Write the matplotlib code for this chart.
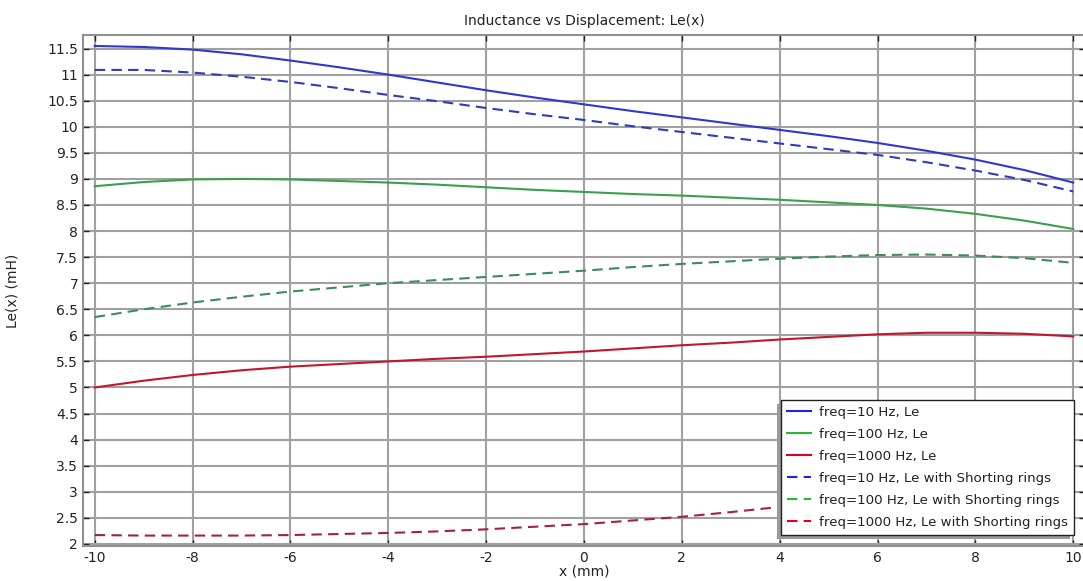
import numpy as np
import matplotlib.pyplot as plt
from matplotlib.patches import Shadow

x = [-10, -9, -8, -7, -6, -5, -4, -3, -2, -1, 0, 1, 2, 3, 4, 5, 6, 7, 8, 9, 10]

le_10 = [11.55, 11.53, 11.48, 11.39, 11.27, 11.14, 11.00, 10.85, 10.70, 10.56, 10.43,
         10.30, 10.18, 10.06, 9.94, 9.82, 9.69, 9.54, 9.37, 9.17, 8.93]
le_100 = [8.86, 8.94, 8.99, 9.00, 8.99, 8.96, 8.93, 8.89, 8.84, 8.79, 8.75,
          8.71, 8.68, 8.64, 8.60, 8.55, 8.50, 8.43, 8.33, 8.20, 8.04]
le_1000 = [5.00, 5.13, 5.24, 5.33, 5.40, 5.45, 5.50, 5.55, 5.59, 5.64, 5.69,
           5.75, 5.81, 5.86, 5.92, 5.97, 6.02, 6.05, 6.05, 6.03, 5.98]
sr_10 = [11.09, 11.09, 11.04, 10.96, 10.86, 10.74, 10.61, 10.49, 10.36, 10.24, 10.13,
         10.01, 9.90, 9.79, 9.68, 9.57, 9.46, 9.32, 9.16, 8.98, 8.76]
sr_100 = [6.35, 6.50, 6.63, 6.74, 6.84, 6.92, 7.00, 7.06, 7.12, 7.18, 7.24,
          7.31, 7.37, 7.42, 7.47, 7.51, 7.54, 7.55, 7.53, 7.48, 7.39]
sr_1000 = [2.17, 2.16, 2.16, 2.16, 2.17, 2.19, 2.21, 2.24, 2.28, 2.33, 2.38,
           2.45, 2.52, 2.61, 2.71, 2.82, 2.94, 3.06, 3.19, 3.32, 3.45]

labels = ["freq=10 Hz, Le", "freq=100 Hz, Le", "freq=1000 Hz, Le",
          "freq=10 Hz, Le with Shorting rings", "freq=100 Hz, Le with Shorting rings",
          "freq=1000 Hz, Le with Shorting rings"]

plt.rcParams['font.family'] = 'DejaVu Sans'
plt.rcParams['axes.unicode_minus'] = False
fig = plt.figure(figsize=(10.83, 5.81), dpi=100)
ax = fig.add_axes([83/1083, 35/581, 1002/1083, 511/581])

dash = (0, (5, 3))
ax.plot(x, le_10, color='#3038cc', lw=1.5)
ax.plot(x, le_100, color='#3aa04c', lw=1.5)
ax.plot(x, le_1000, color='#c0172f', lw=1.5)
ax.plot(x, sr_10, color='#2e3bbf', lw=1.5, ls=dash)
ax.plot(x, sr_100, color='#3d8c58', lw=1.5, ls=dash)
ax.plot(x, sr_1000, color='#a8203a', lw=1.5, ls=dash)

ax.set_xlim(-10.24, 10.24)
ax.set_ylim(1.96, 11.76)
ax.set_xticks(np.arange(-10, 11, 2))
yt = np.arange(2, 11.6, 0.5)
ax.set_yticks(yt)
ax.set_yticklabels(['%g' % v for v in yt])
ax.tick_params(direction='in', length=4, width=1, colors='#222222', labelsize=10,
               top=True, right=True)
ax.grid(True, color='#a0a0a0', lw=1.5)
ax.set_axisbelow(True)
for s in ax.spines.values():
    s.set_color('#909090')
    s.set_linewidth(1.5)

ax.set_title("Inductance vs Displacement: Le(x)", fontsize=10, color='#222222', pad=7)
ax.set_xlabel("x (mm)", fontsize=10, color='#222222', labelpad=0)
ax.set_ylabel("Le(x) (mH)", fontsize=10, color='#222222', labelpad=20)

leg_handles = [plt.Line2D([], [], color=c, lw=1.5, ls=l) for c, l in
               [('#2020ee', '-'), ('#20bb30', '-'), ('#dd0020', '-'),
                ('#2020ee', dash), ('#20bb30', dash), ('#dd0020', dash)]]
leg = ax.legend(leg_handles, labels, loc='lower right',
                bbox_to_anchor=((1074 - 83) / 1002, 11 / 511), borderaxespad=0,
                fontsize=9.6, fancybox=False, framealpha=1,
                edgecolor='#222222', handlelength=1.8, handletextpad=0.6,
                labelspacing=0.68, borderpad=0.45)
leg.get_frame().set_linewidth(1.0)
leg.set_zorder(5)
for t in leg.get_texts():
    t.set_color('#222222')

# shadow to the lower left, like the original
fig.canvas.draw()
sh = Shadow(leg.get_frame(), -3, -3, facecolor='#9a9a9a', edgecolor='none', alpha=1)
sh.set_zorder(4.5)
ax.add_artist(sh)

plt.savefig("out.png", dpi=100)
